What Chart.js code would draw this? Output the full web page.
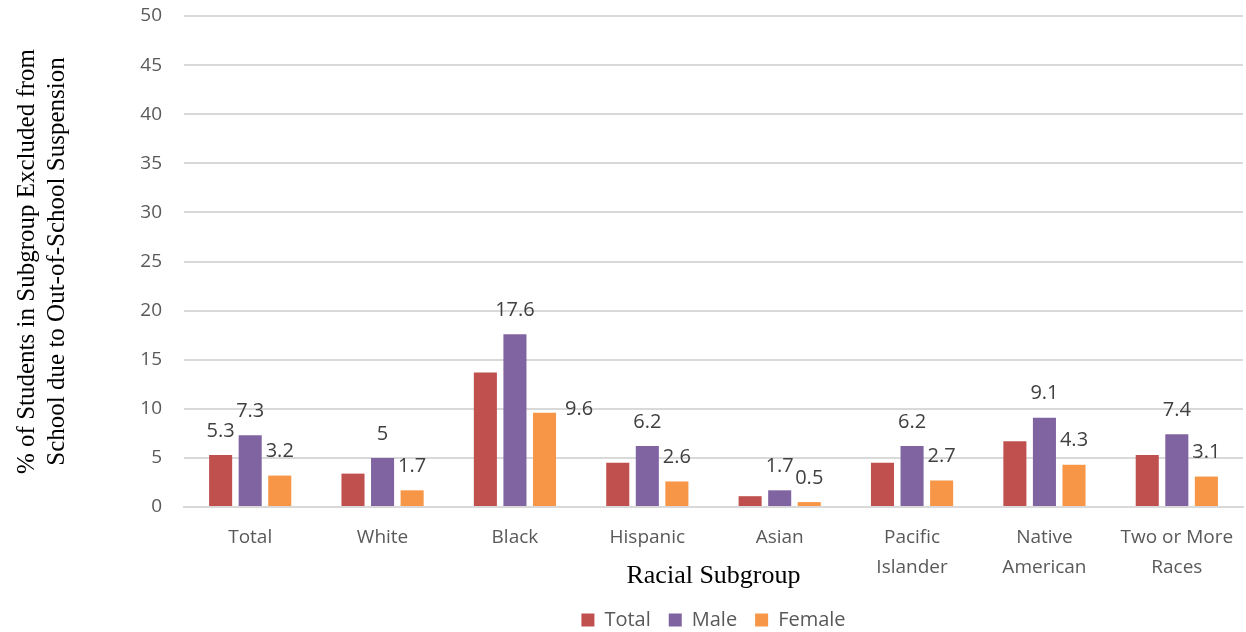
<!DOCTYPE html>
<html>
<head>
<meta charset="utf-8">
<script src="https://cdn.jsdelivr.net/npm/chart.js@4/dist/chart.umd.min.js"></script>
<style>
  body { margin: 0; background: #fff; }
  #wrap { width: 1246px; height: 632px; position: relative; }
</style>
</head>
<body>
<div id="wrap"><canvas id="barChart"></canvas></div>
<script>
const categories = ['Total', 'White', 'Black', 'Hispanic', 'Asian', ['Pacific', 'Islander'], ['Native', 'American'], ['Two or More', 'Races']];
const totalValues = [5.3, 3.4, 13.7, 4.5, 1.1, 4.5, 6.7, 5.3];
const maleValues = [7.3, 5, 17.6, 6.2, 1.7, 6.2, 9.1, 7.4];
const femaleValues = [3.2, 1.7, 9.6, 2.6, 0.5, 2.7, 4.3, 3.1];
const yTicks = [0, 5, 10, 15, 20, 25, 30, 35, 40, 45, 50];

const tickFont = '"Open Sans", Lato, sans-serif';
const serifFont = '"Liberation Serif", "Times New Roman", serif';

// value labels: Total only on first group, Male and Female on all
const valueLabels = {
  id: 'valueLabels',
  afterDatasetsDraw(chart) {
    const ctx = chart.ctx;
    ctx.save();
    ctx.font = '20px ' + tickFont;
    ctx.fillStyle = '#404040';
    ctx.textAlign = 'center';
    ctx.textBaseline = 'middle';
    chart.data.datasets.forEach((ds, di) => {
      const meta = chart.getDatasetMeta(di);
      meta.data.forEach((bar, i) => {
        if (di === 0 && i !== 0) return;
        const v = ds.data[i];
        // female label moved beside the bar when the male bar is much taller
        if (di === 2 && maleValues[i] - v > 6) {
          ctx.textAlign = 'left';
          ctx.fillText(String(v), bar.x + bar.width / 2 + 9, bar.y - 3);
          ctx.textAlign = 'center';
          return;
        }
        ctx.fillText(String(v), bar.x, bar.y - 24);
      });
    });
    ctx.restore();
  }
};

const ctx = document.getElementById('barChart').getContext('2d');
new Chart(ctx, {
  type: 'bar',
  data: {
    labels: categories,
    datasets: [
      { label: 'Total', data: totalValues, backgroundColor: '#C0504D' },
      { label: 'Male', data: maleValues, backgroundColor: '#8064A2' },
      { label: 'Female', data: femaleValues, backgroundColor: '#F79646' }
    ]
  },
  options: {
    responsive: true,
    maintainAspectRatio: false,
    animation: false,
    layout: { padding: { top: 16, right: 3, left: 12, bottom: 0 } },
    datasets: {
      bar: { categoryPercentage: 0.67, barPercentage: 0.78 }
    },
    plugins: {
      tooltip: { enabled: false },
      legend: {
        position: 'bottom',
        fullSize: false,
        maxHeight: 40,
        labels: {
          font: { family: tickFont, size: 20 },
          color: '#595959',
          boxWidth: 13,
          boxHeight: 13,
          padding: 18
        }
      }
    },
    scales: {
      x: {
        afterFit: scale => { scale.height = 85; },
        grid: { display: false },
        border: { color: '#d9d9d9', width: 2 },
        ticks: {
          font: { family: tickFont, size: 19, lineHeight: 1.55 },
          color: '#595959',
          maxRotation: 0,
          padding: 8
        },
        title: {
          display: true,
          text: 'Racial Subgroup',
          font: { family: serifFont, size: 26 },
          color: '#000',
          padding: { top: 0, bottom: 0 }
        }
      },
      y: {
        min: 0,
        max: 50,
        afterBuildTicks: scale => { scale.ticks = yTicks.map(v => ({ value: v })); },
        afterFit: scale => {
          scale.width = 172;
          scale.paddingTop = 0;
          scale.paddingBottom = 0;
        },
        grid: { color: '#d9d9d9', lineWidth: 2, drawTicks: false },
        border: { display: false },
        ticks: {
          font: { family: tickFont, size: 19 },
          color: '#595959',
          padding: 22
        },
        title: {
          display: true,
          text: ['% of Students in Subgroup Excluded from', 'School due to Out-of-School Suspension'],
          font: { family: serifFont, size: 25, lineHeight: 1.2 },
          color: '#000',
          padding: { top: 0, bottom: 0 }
        }
      }
    }
  },
  plugins: [valueLabels]
});
</script>
</body>
</html>
